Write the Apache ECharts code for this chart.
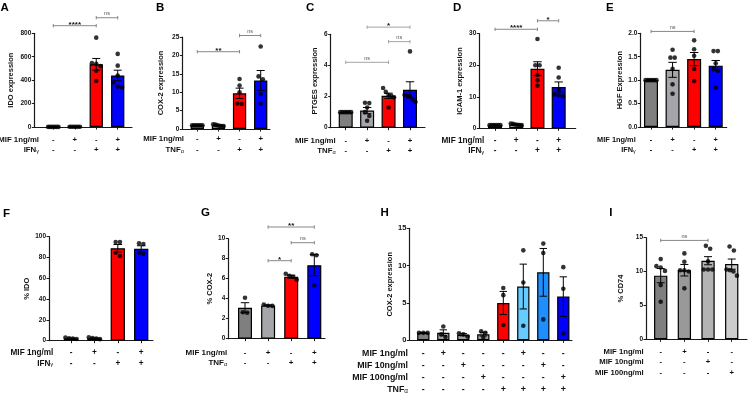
<!DOCTYPE html>
<html><head><meta charset="utf-8">
<script src="https://cdn.jsdelivr.net/npm/echarts@6/dist/echarts.min.js"></script>
<style>html,body{margin:0;padding:0;background:#fff}#c{width:748px;height:393px}</style>
</head><body><div id="c"></div>
<script>
// ---------------- DATA ----------------
const SIGNS_2 = [['-','+','-','+'],['-','-','+','+']];

const A_rows = ['MIF 1ng/ml','IFNγ'];
const A_mean = [1, 2, 535, 440];
const A_sem  = [0.3, 0.3, 50, 45];
const A_pts  = [[1,1,1,1,1,1],[1.6,2.4,2,1.8,2.2,2],[763,545,540,520,480,393],[624,524,440,380,345,340]];
const A_sig  = [[0,2,865,'****'],[2,3,933,'ns']];
const A_ticks = [0,200,400,600,800];

const B_rows = ['MIF 1ng/ml','TNFα'];
const B_mean = [1, 1, 9.7, 13.2];
const B_sem  = [0.05, 0.1, 1.4, 2.7];
const B_pts  = [[1,1,1,1,1,1],[1.3,1.2,1.0,0.9,0.8,0.8],[13.6,11.8,10.0,6.9,6.8],[22.4,14.3,13.5,9.5,6.9]];
const B_sig  = [[0,2,21,'**'],[2,3,25.4,'ns']];
const B_ticks = [0,5,10,15,20,25];

const C_rows = ['MIF 1ng/ml','TNFα'];
const C_mean = [1.0, 1.1, 2.05, 2.43];
const C_sem  = [0.02, 0.2, 0.17, 0.52];
const C_pts  = [[1,1,1,1,1,1],[1.6,1.58,1.3,1.0,0.75,0.45],[2.55,2.3,2.1,2.05,1.95,1.3],[4.9,2.1,2.05,2.0,1.8,1.65]];
const C_sig  = [[0,2,4.2,'ns'],[1,3,6.46,'*'],[2,3,5.53,'ns']];
const C_ticks = [0,2,4,6];

const D_rows = ['MIF 1ng/ml','IFNγ'];
const D_mean = [1, 1.2, 18.9, 13.1];
const D_sem  = [0.02, 0.15, 2.2, 1.6];
const D_pts  = [[1,1,1,1,1,1],[1.5,1.4,1.2,1.1,1.0,1.0],[28.3,20,20,16.9,15.2,13.5],[19.2,16.1,12.3,10.7,10.5,10.2]];
const D_sig  = [[0,2,31.4,'****'],[2,3,34.1,'*']];
const D_ticks = [0,10,20,30];

const E_rows = ['MIF 1ng/ml','IFNγ'];
const E_mean = [1, 1.22, 1.45, 1.31];
const E_sem  = [0.01, 0.16, 0.14, 0.11];
const E_pts  = [[1,1,1,1,1,1],[1.65,1.48,1.48,1.24,0.91,0.71],[1.85,1.66,1.52,1.24,0.98],[1.62,1.62,1.36,1.25,1.2,0.84]];
const E_sig  = [[0,2,2.04,'ns']];
const E_ticks = [0,0.5,1,1.5,2];

const F_rows = ['MIF 1ng/ml','IFNγ'];
const F_mean = [2.2, 2.3, 88.9, 88.3];
const F_sem  = [0.3, 0.4, 3.6, 3.0];
const F_pts  = [[3.0,2.3,2.0,1.6],[3.2,2.6,2.0,1.5],[94.8,94.8,84.5,81.5],[93.6,93.0,84.5,83.5]];
const F_sig  = [];
const F_ticks = [0,20,40,60,80,100];

const G_rows = ['MIF 1ng/ml','TNFα'];
const G_mean = [3.1, 3.33, 6.2, 7.35];
const G_sem  = [0.5, 0.05, 0.15, 1.05];
const G_pts  = [[4.1,2.65,2.6],[3.42,3.3,3.28],[6.5,6.3,6.2,5.9],[8.45,8.35,5.35]];
const G_sig  = [[1,3,11.17,'**'],[2,3,9.6,'ns'],[1,2,7.8,'*']];
const G_ticks = [0,2,4,6,8,10];

const H_rows = ['MIF 1ng/ml','MIF 10ng/ml','MIF 100ng/ml','TNFα'];
const H_signs = [
  ['-','+','-','-','-','+','-','-'],
  ['-','-','+','-','-','-','+','-'],
  ['-','-','-','+','-','-','-','+'],
  ['-','-','-','-','+','+','+','+']];
const H_mean = [1.0, 1.0, 0.75, 0.82, 5.0, 7.2, 9.1, 5.85];
const H_sem  = [0.03, 0.4, 0.15, 0.25, 1.55, 3.0, 3.2, 2.65];
const H_pts  = [[1,1,1],[1.85,0.8,0.45],[0.95,0.8,0.5],[1.2,1.0,0.35],[7.0,6.05,2.05],[12.05,7.75,1.95],[12.95,11.7,2.8],[9.8,6.9,0.95]];
const H_sig  = [];
const H_ticks = [0,5,10,15];

const I_rows = ['MIF 1ng/ml','MIF 10ng/ml','MIF 100ng/ml'];
const I_signs = [['-','+','-','-'],['-','-','+','-'],['-','-','-','+']];
const I_mean = [9.4, 10.2, 11.6, 11.1];
const I_sem  = [1.05, 0.85, 0.6, 0.75];
const I_pts  = [[11.84,10.8,10.6,10.1,8.0,5.55],[12.68,11.45,10.2,10.2,10.0,7.52],[13.8,13.36,11.5,10.3,10.3,10.3],[13.7,13.1,10.3,10.2,10.0,9.4]];
const I_sig  = [[0,2,14.6,'ns']];
const I_ticks = [0,5,10,15];

// ---------------- STYLE / LAYOUT ----------------
const FONT = '"Liberation Sans", Arial, Helvetica, sans-serif';
const C4 = ['#7f7f7f','#a6a6aa','#ff0000','#0000ff'];
const LAYOUT = {
 A:{axisX:34.3,right:132,c0:53.3,step:21.47,top:33.3,bot:127,barW:13.3,rowOff:12.7,rowStep:10,labelRight:39,rowFont:7.8,tickFont:6.5,nameDist:23,lx:0.5,ly:1.7},
 B:{axisX:182.3,right:270,c0:197.3,step:21.13,top:37,bot:129,barW:13.3,rowOff:10.3,rowStep:10.7,labelRight:184,rowFont:7.8,tickFont:6.5,nameDist:20.6,lx:156,ly:1.7},
 C:{axisX:330.7,right:425,c0:345.7,step:21.43,top:34.3,bot:127.7,barW:14,rowOff:13,rowStep:10.3,labelRight:335.7,rowFont:7.8,tickFont:6.5,nameDist:15.7,lx:306,ly:1.7},
 D:{axisX:479.3,right:575.7,c0:495,step:21.23,top:33.7,bot:128.3,barW:14,rowOff:12,rowStep:10.7,labelRight:484.3,rowFont:8.2,tickFont:6.5,nameDist:18.6,lx:453,ly:2.3},
 E:{axisX:640.3,right:726.7,c0:651,step:21.57,top:33.3,bot:127,barW:14,rowOff:12.7,rowStep:10.3,labelRight:635.7,rowFont:7.4,tickFont:6.5,nameDist:17,lx:606,ly:2.3},
 F:{axisX:49,right:153,c0:71,step:23.4,top:236.7,bot:340.7,barW:14.3,rowOff:11.6,rowStep:11,labelRight:53.3,rowFont:8.2,tickFont:6.5,nameDist:20.7,lx:3,ly:207.7},
 G:{axisX:228.3,right:325,c0:245,step:23.1,top:238.7,bot:338.7,barW:14,rowOff:14,rowStep:10.3,labelRight:227.3,rowFont:8,tickFont:6.5,nameDist:16.6,lx:201,ly:206.7},
 H:{axisX:409.3,right:572,c0:423.3,step:20,top:228.3,bot:340.3,barW:12.3,rowOff:13.4,rowStep:12,labelRight:408,rowFont:8.8,tickFont:7.5,nameDist:15.3,lx:380.5,ly:206.7},
 I:{axisX:646,right:747,c0:660.7,step:23.67,top:237.7,bot:339.3,barW:13.3,rowOff:12.4,rowStep:10.65,labelRight:643.7,rowFont:7.7,tickFont:6.5,nameDist:24.3,lx:609.3,ly:206.7}
};

const PANELS = [
 {id:'A', yName:'IDO expression',   rows:A_rows, signs:SIGNS_2, mean:A_mean, sem:A_sem, pts:A_pts, sig:A_sig, ticks:A_ticks, colors:C4},
 {id:'B', yName:'COX-2 expression', rows:B_rows, signs:SIGNS_2, mean:B_mean, sem:B_sem, pts:B_pts, sig:B_sig, ticks:B_ticks, colors:C4},
 {id:'C', yName:'PTGES expression', rows:C_rows, signs:SIGNS_2, mean:C_mean, sem:C_sem, pts:C_pts, sig:C_sig, ticks:C_ticks, colors:C4, sigColor:'#9a9a9a'},
 {id:'D', yName:'ICAM-1 expression',rows:D_rows, signs:SIGNS_2, mean:D_mean, sem:D_sem, pts:D_pts, sig:D_sig, ticks:D_ticks, colors:C4},
 {id:'E', yName:'HGF Expression',   rows:E_rows, signs:SIGNS_2, mean:E_mean, sem:E_sem, pts:E_pts, sig:E_sig, ticks:E_ticks, colors:C4, fmt:v=>v.toFixed(1)},
 {id:'F', yName:'% IDO',            rows:F_rows, signs:SIGNS_2, mean:F_mean, sem:F_sem, pts:F_pts, sig:F_sig, ticks:F_ticks, colors:C4},
 {id:'G', yName:'% COX-2',          rows:G_rows, signs:SIGNS_2, mean:G_mean, sem:G_sem, pts:G_pts, sig:G_sig, ticks:G_ticks, colors:C4},
 {id:'H', yName:'COX-2 expression', rows:H_rows, signs:H_signs, mean:H_mean, sem:H_sem, pts:H_pts, sig:H_sig, ticks:H_ticks,
   colors:['#7f7f7f','#a0a0a0','#a0a0a0','#a0a0a0','#ff0000','#66ccff','#1e8fff','#0000ff']},
 {id:'I', yName:'% CD74',           rows:I_rows, signs:I_signs, mean:I_mean, sem:I_sem, pts:I_pts, sig:I_sig, ticks:I_ticks,
   colors:['#7f7f7f','#999999','#b3b3b3','#cdcdcd']}
];

// beeswarm-like horizontal spreading of close points (pixel offsets)
function swarm(vals, pxPerUnit, d, maxSpread) {
  const order = vals.map((v,i)=>i).sort((a,b)=>vals[b]-vals[a]);
  const off = new Array(vals.length).fill(0);
  let g = [];
  const flush = () => {
    const m = g.length;
    const st = m > 1 ? Math.min(d, maxSpread/(m-1)) : 0;
    g.forEach((k,j) => { off[k] = (j-(m-1)/2)*st; });
    g = [];
  };
  order.forEach(k => {
    if (g.length && (vals[g[g.length-1]] - vals[k]) * pxPerUnit >= d) flush();
    g.push(k);
  });
  flush();
  return off;
}

function richLabel(t) {
  const m = t.match(/^(.*?)([γα])$/);
  return m ? '{b|' + m[1] + '}{s|' + m[2] + '}' : '{b|' + t + '}';
}

const chart = echarts.init(document.getElementById('c'), null, {renderer:'canvas'});
const grids=[], xAxes=[], yAxes=[], series=[], graphics=[];
const AX = '#1a1a1a';

PANELS.forEach((p, gi) => {
  const L = LAYOUT[p.id];
  const n = p.mean.length;
  const max = p.ticks[p.ticks.length-1];
  const interval = p.ticks[1] - p.ticks[0];
  const xMin = -(L.c0 - L.axisX)/L.step;
  const xMax = (n-1) + (L.right - (L.c0 + (n-1)*L.step))/L.step;
  const idx = p.mean.map((_,i)=>i);
  const pxPerUnit = (L.bot - L.top)/max;

  grids.push({left:L.axisX, top:L.top, width:L.right-L.axisX, height:L.bot-L.top, containLabel:false, outerBoundsMode:'none'});
  xAxes.push({
    gridIndex:gi, type:'value', min:xMin, max:xMax,
    axisLine:{show:true, onZero:false, lineStyle:{color:AX, width:1.2}},
    axisTick:{show:true, customValues:idx, length:2.5, lineStyle:{color:AX, width:1}},
    axisLabel:{show:true, customValues:idx, formatter:v => p.signs.map(r => r[Math.round(v)]).join('\n'),
      fontFamily:FONT, fontSize:L.rowFont, fontWeight:'bold', color:'#111', lineHeight:L.rowStep,
      margin:L.rowOff - L.rowStep/2},
    splitLine:{show:false}
  });
  yAxes.push({
    gridIndex:gi, type:'value', min:0, max:max, interval:interval,
    name:p.yName, nameLocation:'middle', nameGap:L.nameDist-3.5,
    nameTextStyle:{fontFamily:FONT, fontSize:7.5, fontWeight:'bold', color:'#111'},
    axisLine:{show:true, onZero:false, lineStyle:{color:AX, width:1.2}},
    axisTick:{show:true, length:2.5, lineStyle:{color:AX, width:1}},
    axisLabel:{fontFamily:FONT, fontSize:L.tickFont, fontWeight:'bold', color:'#111', margin:3,
      formatter: p.fmt || (v => String(v)), showMinLabel:true, showMaxLabel:true},
    splitLine:{show:false}
  });

  series.push({
    type:'bar', xAxisIndex:gi, yAxisIndex:gi, barWidth:L.barW, silent:true, z:2,
    itemStyle:{borderColor:'#000', borderWidth:1.2},
    data:p.mean.map((v,i)=>({value:[i,v], itemStyle:{color:p.colors[i]}}))
  });

  const capHalf = L.barW*0.3;
  series.push({
    type:'custom', xAxisIndex:gi, yAxisIndex:gi, silent:true, z:3, clip:false,
    encode:{x:0, y:1},
    data:p.mean.map((v,i)=>[i, v, p.sem[i]]),
    renderItem:(params, api) => {
      const x = api.value(0), m = api.value(1), e = api.value(2);
      const t = api.coord([x, m+e]), b = api.coord([x, Math.max(0, m-e)]);
      const st = {stroke:'#000', lineWidth:1};
      return {type:'group', children:[
        {type:'line', shape:{x1:t[0], y1:t[1], x2:b[0], y2:b[1]}, style:st},
        {type:'line', shape:{x1:t[0]-capHalf, y1:t[1], x2:t[0]+capHalf, y2:t[1]}, style:st},
        {type:'line', shape:{x1:b[0]-capHalf, y1:b[1], x2:b[0]+capHalf, y2:b[1]}, style:st}
      ]};
    }
  });

  const dots = [];
  p.pts.forEach((vals, i) => {
    const off = swarm(vals, pxPerUnit, 4.3, L.barW*0.78);
    vals.forEach((v,k) => dots.push([i + off[k]/L.step, v]));
  });
  series.push({
    type:'scatter', xAxisIndex:gi, yAxisIndex:gi, silent:true, z:4, symbol:'circle', symbolSize:4.6,
    itemStyle:{color:'#000'}, data:dots
  });

  if (p.sig.length) {
    const sc = p.sigColor || '#7a7a7a';
    series.push({
      type:'custom', xAxisIndex:gi, yAxisIndex:gi, silent:true, z:5, clip:false,
      encode:{x:[0,1], y:2},
      data:p.sig.map(s => [s[0], s[1], s[2]]),
      renderItem:(params, api) => {
        const lab = p.sig[params.dataIndex][3];
        const a = api.coord([api.value(0), api.value(2)]);
        const b = api.coord([api.value(1), api.value(2)]);
        const st = {stroke:sc, lineWidth:0.9};
        const h = 1.7;
        const isNs = lab === 'ns';
        return {type:'group', children:[
          {type:'line', shape:{x1:a[0], y1:a[1], x2:b[0], y2:b[1]}, style:st},
          {type:'line', shape:{x1:a[0], y1:a[1]-h, x2:a[0], y2:a[1]+h}, style:st},
          {type:'line', shape:{x1:b[0], y1:b[1]-h, x2:b[0], y2:b[1]+h}, style:st},
          {type:'text', x:(a[0]+b[0])/2, y:a[1] - (isNs ? 4.2 : 1.2),
            style:{text:lab, fontFamily:FONT, fontSize:isNs ? 5.5 : 8, fontWeight:isNs ? 'normal' : 'bold',
              fill:isNs ? '#555' : '#111', align:'center', verticalAlign:'middle'}}
        ]};
      }
    });
  }

  // panel letter
  graphics.push({type:'text', x:L.lx, y:L.ly, silent:true,
    style:{text:p.id, fontFamily:FONT, fontSize:11.5, fontWeight:'bold', fill:'#000', align:'left', verticalAlign:'top'}});
  // row labels
  p.rows.forEach((r, k) => {
    graphics.push({type:'text', x:L.labelRight, y:L.bot + L.rowOff + k*L.rowStep, silent:true,
      style:{text:richLabel(r), align:'right', verticalAlign:'middle', fill:'#111',
        rich:{b:{fontFamily:FONT, fontSize:L.rowFont, fontWeight:'bold', fill:'#111'},
              s:{fontFamily:FONT, fontSize:L.rowFont*0.72, fontWeight:'normal', fill:'#111', padding:[3,0,0,0]}}}});
  });
});

chart.setOption({
  animation:false,
  backgroundColor:'#fff',
  grid:grids, xAxis:xAxes, yAxis:yAxes, series:series,
  graphic:{elements:graphics}
});
</script>
</body></html>
